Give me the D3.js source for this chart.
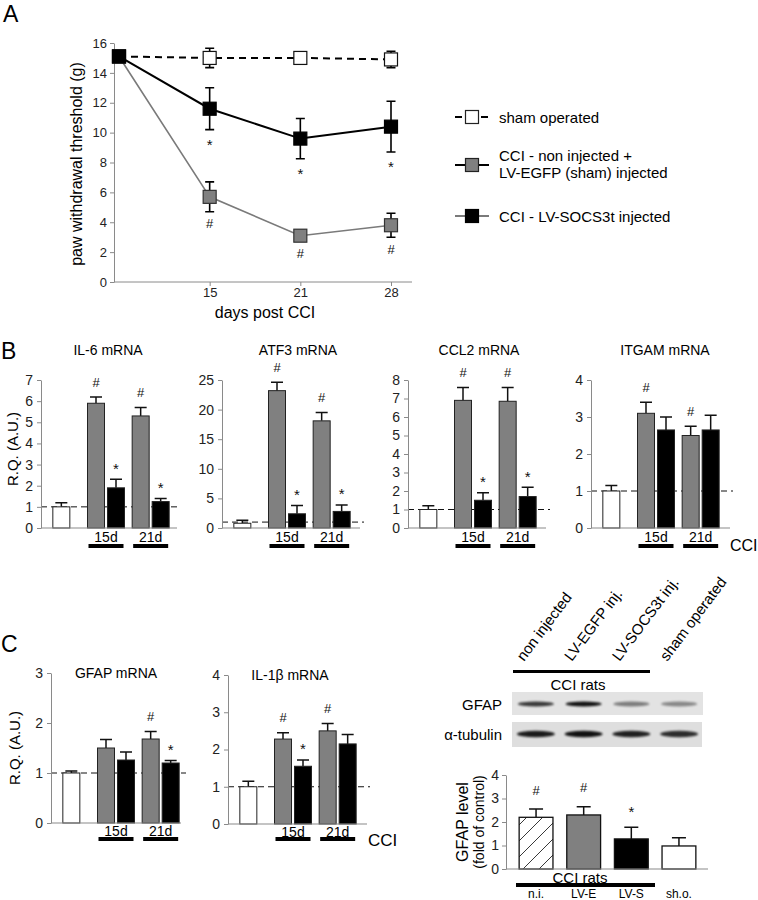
<!DOCTYPE html>
<html><head><meta charset="utf-8">
<script src="https://cdn.jsdelivr.net/npm/d3@7"></script>
<style>
body{margin:0;background:#fff;}
svg{display:block;font-family:"Liberation Sans",Arial,Helvetica,sans-serif;}
</style></head><body>
<svg id="fig" width="758" height="900"></svg>
<script>
// ---------- Panel A data ----------
const daysA = ["0","15","21","28"];
const shamA = [15.1, 15.0, 15.0, 14.9];
const shamErrA = [0, 0.65, 0.4, 0.55];
const egfpA = [15.1, 5.7, 3.1, 3.8];
const egfpErrA = [0, 1.0, 0.35, 0.8];
const socsA = [15.1, 11.6, 9.6, 10.4];
const socsErrA = [0, 1.4, 1.35, 1.7];
const socsSigA = ["", "*", "*", "*"];
const egfpSigA = ["", "#", "#", "#"];
const yTicksA = [0, 2, 4, 6, 8, 10, 12, 14, 16];
const legendA = ["sham operated", "CCI - non injected +", "LV-EGFP (sham) injected", "CCI - LV-SOCS3t injected"];

// ---------- mRNA bar data (ctrl, 15d gray, 15d black, 21d gray, 21d black) ----------
const barGroup = ["ctrl", "15d", "15d", "21d", "21d"];
const barSeries = ["w", "g", "b", "g", "b"];
const dayGroups = ["15d", "21d"];
const il6 = [1.0, 5.9, 1.9, 5.3, 1.25];
const il6Err = [0.2, 0.3, 0.4, 0.4, 0.15];
const il6Sig = ["", "#", "*", "#", "*"];
const atf3 = [0.8, 23.2, 2.4, 18.1, 2.8];
const atf3Err = [0.5, 1.4, 1.4, 1.4, 1.1];
const atf3Sig = ["", "#", "*", "#", "*"];
const ccl2 = [1.0, 6.9, 1.5, 6.85, 1.7];
const ccl2Err = [0.2, 0.7, 0.4, 0.75, 0.5];
const ccl2Sig = ["", "#", "*", "#", "*"];
const itgam = [1.0, 3.1, 2.65, 2.5, 2.65];
const itgamErr = [0.15, 0.3, 0.35, 0.25, 0.4];
const itgamSig = ["", "#", "", "#", ""];
const gfapM = [1.0, 1.5, 1.26, 1.68, 1.2];
const gfapMErr = [0.04, 0.17, 0.16, 0.15, 0.05];
const gfapMSig = ["", "", "", "#", "*"];
const il1b = [1.0, 2.28, 1.55, 2.5, 2.15];
const il1bErr = [0.15, 0.17, 0.17, 0.2, 0.25];
const il1bSig = ["", "#", "*", "#", ""];

// ---------- Western blot / GFAP protein ----------
const lanes = ["n.i.", "LV-E", "LV-S", "sh.o."];
const laneNames = ["non injected", "LV-EGFP  inj.", "LV-SOCS3t inj.", "sham operated"];
const gfapBand = [0.75, 0.92, 0.45, 0.4];
const tubBand = [0.88, 0.92, 0.85, 0.8];
const gfapLevel = [2.2, 2.3, 1.28, 0.98];
const gfapLevelErr = [0.35, 0.35, 0.5, 0.35];
const gfapLevelSig = ["#", "#", "*", ""];

const svg = d3.select("#fig");
const AX = "#8a8a8a";
const fmtInt = d3.format("d");
const defs = svg.append("defs");
defs.append("filter").attr("id","blur").attr("x","-20%").attr("y","-100%").attr("width","140%").attr("height","300%")
  .append("feGaussianBlur").attr("stdDeviation", 1.1);
const pat = defs.append("pattern").attr("id","hatch").attr("patternUnits","userSpaceOnUse").attr("width",16).attr("height",16);
pat.append("rect").attr("width",16).attr("height",16).attr("fill","#fff");
pat.append("path").attr("d","M0,16 L16,0 M-4,4 L4,-4 M12,20 L20,12").attr("stroke","#222").attr("stroke-width",0.9);

function styleAxis(g, fs){
  g.attr("font-family", null).attr("font-size", fs);
  g.selectAll(".domain").attr("stroke", AX);
  g.selectAll(".tick line").attr("stroke", AX);
  g.selectAll(".tick text").attr("fill", "#222");
}
function sig(g, x, yc, s){
  if(!s) return;
  const fs = s === "*" ? 15 : 13;
  const dy = s === "*" ? 0.62*fs : 0.36*fs;
  g.append("text").attr("x", x).attr("y", yc + dy).attr("text-anchor","middle").attr("font-size", fs).attr("fill","#111").text(s);
}
function letter(t, x, y){ svg.append("text").attr("x",x).attr("y",y).attr("font-size",23).attr("fill","#000").text(t); }

// ================= Panel A =================
letter("A", 3, 22);
const gA = svg.append("g");
const xA = d3.scalePoint().domain(daysA).range([119, 391]);
const yA = d3.scaleLinear().domain([0, 16]).range([282, 43]);
gA.append("g").attr("transform","translate(114,0)")
  .call(d3.axisLeft(yA).tickValues(yTicksA).tickFormat(fmtInt).tickSize(4).tickSizeOuter(0).tickPadding(3))
  .call(styleAxis, 13);
gA.append("line").attr("x1",114).attr("x2",412).attr("y1",282).attr("y2",282).attr("stroke",AX);
gA.append("g").attr("transform","translate(0,282)")
  .call(d3.axisBottom(xA).tickValues(daysA.slice(1)).tickSize(4).tickPadding(2))
  .call(g => g.select(".domain").remove())
  .call(styleAxis, 13);
gA.append("text").attr("x",265).attr("y",318).attr("text-anchor","middle").attr("font-size",16).text("days post CCI");
gA.append("text").attr("transform","translate(82,164) rotate(-90)").attr("text-anchor","middle").attr("font-size",16).text("paw withdrawal threshold (g)");

const lineA = d3.line().x((d,i) => xA(daysA[i])).y(d => yA(d));
gA.append("path").datum(egfpA).attr("d", lineA).attr("fill","none").attr("stroke","#7a7a7a").attr("stroke-width",1.6);
gA.append("path").datum(socsA).attr("d", lineA).attr("fill","none").attr("stroke","#000").attr("stroke-width",2);
gA.append("path").datum(shamA).attr("d", lineA).attr("fill","none").attr("stroke","#000").attr("stroke-width",2).attr("stroke-dasharray","7,5");

function errA(vals, errs){
  vals.forEach((v,i) => {
    if(!errs[i]) return;
    const x = xA(daysA[i]);
    const p = d3.path();
    p.moveTo(x, yA(v+errs[i])); p.lineTo(x, yA(v-errs[i]));
    p.moveTo(x-4.5, yA(v+errs[i])); p.lineTo(x+4.5, yA(v+errs[i]));
    p.moveTo(x-4.5, yA(v-errs[i])); p.lineTo(x+4.5, yA(v-errs[i]));
    gA.append("path").attr("d", p.toString()).attr("stroke","#000").attr("stroke-width",1.6).attr("fill","none");
  });
}
errA(shamA, shamErrA); errA(egfpA, egfpErrA); errA(socsA, socsErrA);
const SQ = 13;
function marks(vals, fill, stroke){
  gA.append("g").selectAll("rect").data(vals).join("rect")
    .attr("x",(d,i) => xA(daysA[i]) - SQ/2).attr("y", d => yA(d) - SQ/2)
    .attr("width",SQ).attr("height",SQ).attr("fill",fill).attr("stroke",stroke).attr("stroke-width",1.2);
}
marks(shamA, "#fff", "#111");
marks(egfpA, "#808080", "#333");
marks(socsA, "#000", "#000");
socsA.forEach((v,i) => sig(gA, xA(daysA[i]), yA(v - socsErrA[i]) + 11, socsSigA[i]));
egfpA.forEach((v,i) => sig(gA, xA(daysA[i]), yA(v - egfpErrA[i]) + 12, egfpSigA[i]));

// legend
const lg = svg.append("g");
function legendSym(y, dashed, lineColor, fill){
  lg.append("line").attr("x1",455).attr("x2",489).attr("y1",y).attr("y2",y).attr("stroke",lineColor)
    .attr("stroke-width", dashed ? 2 : 1.8).attr("stroke-dasharray", dashed ? "7,6" : null);
  lg.append("rect").attr("x",472-SQ/2).attr("y",y-SQ/2).attr("width",SQ).attr("height",SQ)
    .attr("fill",fill).attr("stroke",fill === "#000" ? "#000" : "#222").attr("stroke-width",1.2);
}
legendSym(117, true, "#000", "#fff");
legendSym(165, false, "#000", "#808080");
legendSym(216, false, "#7a7a7a", "#000");
[[117,legendA[0]],[155,legendA[1]],[172,legendA[2]],[216,legendA[3]]].forEach(([y,t]) =>
  lg.append("text").attr("x",499).attr("y",y).attr("dominant-baseline","central").attr("font-size",15).text(t));

// ================= Bar chart helper =================
function barChart(o){
  const g = svg.append("g");
  const y = d3.scaleLinear().domain([0, o.max]).range([o.baseY, o.topY]);
  const xg = d3.scaleBand().domain(["ctrl", ...dayGroups]).range([o.axisX - 2, o.axisX + 132]);
  const xi = d3.scaleBand().domain(["g","b"]).range([-18.5, 18.5]).paddingInner(0.15);
  const cx = k => xg(k) + xg.bandwidth()/2;
  const bx = i => barSeries[i] === "w" ? cx(barGroup[i]) - xi.bandwidth()/2 : cx(barGroup[i]) + xi(barSeries[i]);
  const fills = {w:"#fff", g:"#808080", b:"#000"};
  g.append("line").attr("x1",o.axisX).attr("x2",o.dashEnd).attr("y1",y(1)).attr("y2",y(1))
    .attr("stroke","#111").attr("stroke-width",1).attr("stroke-dasharray","6,4");
  o.vals.forEach((v,i) => {
    const x = bx(i) + xi.bandwidth()/2, t = y(v + o.errs[i]);
    const p = d3.path(); p.moveTo(x, y(v)); p.lineTo(x, t); p.moveTo(x-6, t); p.lineTo(x+6, t);
    g.append("path").attr("d", p.toString()).attr("stroke","#111").attr("stroke-width",1.5).attr("fill","none");
    sig(g, x, t - 15, o.sigs[i]);
  });
  g.append("g").selectAll("rect").data(o.vals).join("rect")
    .attr("x",(d,i) => bx(i)).attr("y", d => y(d)).attr("width", xi.bandwidth()).attr("height", d => y(0) - y(d))
    .attr("fill",(d,i) => fills[barSeries[i]]).attr("stroke","#222").attr("stroke-width",1);
  g.append("line").attr("x1",o.axisX).attr("x2",o.axisEnd).attr("y1",o.baseY).attr("y2",o.baseY).attr("stroke",AX).attr("stroke-width",1.2);
  g.append("g").attr("transform",`translate(${o.axisX},0)`)
    .call(d3.axisLeft(y).tickValues(o.ticks).tickFormat(fmtInt).tickSize(4).tickSizeOuter(0).tickPadding(4))
    .call(styleAxis, 14);
  dayGroups.forEach(k => {
    g.append("text").attr("x", cx(k)).attr("y", o.labY).attr("text-anchor","middle").attr("dominant-baseline","central").attr("font-size",14).text(k);
    g.append("rect").attr("x", cx(k) - 17.5).attr("y", o.lineY - 2).attr("width", 35).attr("height", 4).attr("fill","#000");
  });
  g.append("text").attr("x", o.titleX).attr("y", o.titleY).attr("text-anchor","middle").attr("dominant-baseline","central").attr("font-size",14).text(o.title);
  return g;
}

// ================= Panel B =================
letter("B", 1, 359);
const bBase = 528, bTop = 380;
barChart({title:"IL-6 mRNA", titleX:108, titleY:350, axisX:41, axisEnd:177, dashEnd:181, baseY:bBase, topY:bTop, max:7, ticks:d3.range(0,8), vals:il6, errs:il6Err, sigs:il6Sig, labY:537, lineY:546});
barChart({title:"ATF3 mRNA", titleX:298, titleY:350, axisX:222, axisEnd:360, dashEnd:364, baseY:bBase, topY:bTop, max:25, ticks:d3.range(0,26,5), vals:atf3, errs:atf3Err, sigs:atf3Sig, labY:537, lineY:546});
barChart({title:"CCL2 mRNA", titleX:479, titleY:350, axisX:408, axisEnd:546, dashEnd:550, baseY:bBase, topY:bTop, max:8, ticks:d3.range(0,9), vals:ccl2, errs:ccl2Err, sigs:ccl2Sig, labY:537, lineY:546});
barChart({title:"ITGAM mRNA", titleX:665, titleY:350, axisX:591, axisEnd:730, dashEnd:733, baseY:bBase, topY:bTop, max:4, ticks:d3.range(0,5), vals:itgam, errs:itgamErr, sigs:itgamSig, labY:537, lineY:546});
svg.append("text").attr("x",730).attr("y",545).attr("dominant-baseline","central").attr("font-size",16).text("CCI");
svg.append("text").attr("transform","translate(12,449) rotate(-90)").attr("text-anchor","middle").attr("dominant-baseline","central").attr("font-size",15).text("R.Q. (A.U.)");

// ================= Panel C =================
letter("C", 1, 652);
barChart({title:"GFAP mRNA", titleX:116, titleY:673, axisX:51, axisEnd:181, dashEnd:186, baseY:823, topY:673, max:3, ticks:d3.range(0,4), vals:gfapM, errs:gfapMErr, sigs:gfapMSig, labY:831, lineY:839});
barChart({title:"IL-1\u03b2 mRNA", titleX:290, titleY:675, axisX:228, axisEnd:367, dashEnd:370, baseY:824, topY:675, max:4, ticks:d3.range(0,5), vals:il1b, errs:il1bErr, sigs:il1bSig, labY:832, lineY:839});
svg.append("text").attr("x",368).attr("y",840).attr("dominant-baseline","central").attr("font-size",17).text("CCI");
svg.append("text").attr("transform","translate(14,748) rotate(-90)").attr("text-anchor","middle").attr("dominant-baseline","central").attr("font-size",15).text("R.Q. (A.U.)");

// Western blot
const gW = svg.append("g");
const xL = d3.scaleBand().domain(lanes).range([512, 703]);
const lc = k => xL(k) + xL.bandwidth()/2;
lanes.forEach((k,i) => {
  gW.append("text").attr("transform",`translate(${lc(k) - 12},662) rotate(-53)`).attr("font-size",15).text(laneNames[i]);
});
gW.append("rect").attr("x",513).attr("y",670).attr("width",137).attr("height",3).attr("fill","#000");
gW.append("text").attr("x",578).attr("y",684).attr("text-anchor","middle").attr("dominant-baseline","central").attr("font-size",15).text("CCI rats");
gW.append("rect").attr("x",512).attr("y",692).attr("width",191).attr("height",23).attr("fill","#e3e3e3");
gW.append("rect").attr("x",512).attr("y",722).attr("width",190).attr("height",25).attr("fill","#dedede");
gW.append("g").selectAll("ellipse").data(gfapBand).join("ellipse")
  .attr("cx",(d,i) => lc(lanes[i])).attr("cy",704).attr("rx",18).attr("ry",2.4)
  .attr("fill","#000").attr("opacity", d => d).attr("filter","url(#blur)");
gW.append("g").selectAll("ellipse").data(tubBand).join("ellipse")
  .attr("cx",(d,i) => lc(lanes[i])).attr("cy",734).attr("rx",19).attr("ry",3.2)
  .attr("fill","#000").attr("opacity", d => d).attr("filter","url(#blur)");
gW.append("text").attr("x",502).attr("y",704).attr("text-anchor","end").attr("dominant-baseline","central").attr("font-size",15).text("GFAP");
gW.append("text").attr("x",502).attr("y",734).attr("text-anchor","end").attr("dominant-baseline","central").attr("font-size",15).text("\u03b1-tubulin");

// GFAP protein level bars
const gP = svg.append("g");
const yP = d3.scaleLinear().domain([0,4]).range([869, 775]);
const xP = d3.scaleBand().domain(lanes).range([512, 703]).paddingInner(0.29).paddingOuter(0.15);
const pFill = ["url(#hatch)", "#808080", "#000", "#fff"];
gfapLevel.forEach((v,i) => {
  const x = xP(lanes[i]) + xP.bandwidth()/2, t = yP(v + gfapLevelErr[i]);
  const p = d3.path(); p.moveTo(x, yP(v)); p.lineTo(x, t); p.moveTo(x-7, t); p.lineTo(x+7, t);
  gP.append("path").attr("d", p.toString()).attr("stroke","#111").attr("stroke-width",1.5).attr("fill","none");
  sig(gP, x, t - 19, gfapLevelSig[i]);
});
gP.append("g").selectAll("rect").data(gfapLevel).join("rect")
  .attr("x",(d,i) => xP(lanes[i])).attr("y", d => yP(d)).attr("width", xP.bandwidth()).attr("height", d => yP(0) - yP(d))
  .attr("fill",(d,i) => pFill[i]).attr("stroke","#111").attr("stroke-width",1.3);
gP.append("line").attr("x1",506).attr("x2",708).attr("y1",869).attr("y2",869).attr("stroke",AX).attr("stroke-width",1.2);
gP.append("g").attr("transform","translate(506,0)")
  .call(d3.axisLeft(yP).tickValues(d3.range(0,5)).tickFormat(fmtInt).tickSize(4).tickSizeOuter(0).tickPadding(3))
  .call(styleAxis, 14);
gP.append("text").attr("transform","translate(462,822) rotate(-90)").attr("text-anchor","middle").attr("dominant-baseline","central").attr("font-size",16).text("GFAP  level");
gP.append("text").attr("transform","translate(479,822) rotate(-90)").attr("text-anchor","middle").attr("dominant-baseline","central").attr("font-size",14).text("(fold of control)");
gP.append("text").attr("x",580).attr("y",877).attr("text-anchor","middle").attr("dominant-baseline","central").attr("font-size",15).text("CCI rats");
gP.append("rect").attr("x",516).attr("y",883).attr("width",139).attr("height",4).attr("fill","#000");
lanes.forEach(k => gP.append("text").attr("x", xP(k) + xP.bandwidth()/2).attr("y", 894).attr("text-anchor","middle").attr("dominant-baseline","central").attr("font-size",12).text(k));
</script>
</body></html>
